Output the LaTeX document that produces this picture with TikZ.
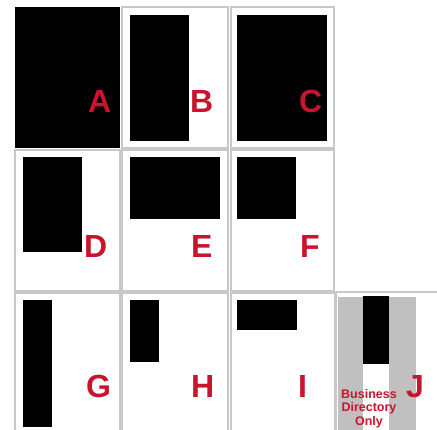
\documentclass[tikz,border=0pt]{standalone}
\usepackage{fontspec}
\setmainfont{Liberation Sans}
\definecolor{cellgray}{RGB}{200,200,200}
\definecolor{stripgray}{RGB}{192,192,192}
\definecolor{labred}{RGB}{200,20,45}
\begin{document}
\begin{tikzpicture}[x=1pt,y=-1pt,
  cell/.style={draw=cellgray, line width=1.2pt, fill=white, anchor=north west, inner sep=0pt, outer sep=0pt},
  blk/.style={fill=black, anchor=north west, inner sep=0pt, outer sep=0pt},
  strip/.style={fill=stripgray, anchor=north west, inner sep=0pt, outer sep=0pt},
  lab/.style={text=labred, font=\bfseries\fontsize{32}{32}\selectfont, anchor=base west, inner sep=0pt, outer sep=0pt},
  note/.style={text=labred, font=\bfseries\fontsize{12.5}{13.5}\selectfont, align=center, anchor=base, inner sep=0pt}]
\clip (0,0) rectangle (437,429);
\fill[white] (0,0) rectangle (437,429);
% cells
\node[cell, minimum width=106, minimum height=141] (cB) at (122,7) {};
\node[cell, minimum width=103, minimum height=141] (cC) at (231,7) {};
\node[cell, minimum width=105, minimum height=141] (cD) at (15,150) {};
\node[cell, minimum width=106, minimum height=141] (cE) at (122,150) {};
\node[cell, minimum width=103, minimum height=141] (cF) at (231,150) {};
\node[cell, minimum width=105, minimum height=140] (cG) at (15,293) {};
\node[cell, minimum width=106, minimum height=140] (cH) at (122,293) {};
\node[cell, minimum width=104, minimum height=140] (cI) at (231,293) {};
\node[cell, minimum width=110, minimum height=140] (cJ) at (336,292) {};
% black blocks
\node[blk, minimum width=105, minimum height=141] (bA) at (15,7) {};
\node[blk, minimum width=59, minimum height=126] (bB) at (130,15) {};
\node[blk, minimum width=90, minimum height=126] (bC) at (237,15) {};
\node[blk, minimum width=59, minimum height=95] (bD) at (23,157) {};
\node[blk, minimum width=90, minimum height=62] (bE) at (130,157) {};
\node[blk, minimum width=59, minimum height=62] (bF) at (237,157) {};
\node[blk, minimum width=29, minimum height=127] (bG) at (23,300) {};
\node[blk, minimum width=29, minimum height=62] (bH) at (130,300) {};
\node[blk, minimum width=60, minimum height=30] (bI) at (237,300) {};
% J
\node[strip, minimum width=78, minimum height=140] (sJ) at (338,297) {};
\node[fill=white, anchor=north west, inner sep=0pt, outer sep=0pt, minimum width=26, minimum height=80] (wJ) at (363,364) {};
\node[blk, minimum width=26, minimum height=68] (bJ) at (363,296) {};
% labels
\node[lab] (lA) at (88,112) {A};
\node[lab] (lB) at (190,112) {B};
\node[lab] (lC) at (299,112) {C};
\node[lab] (lD) at (84,257) {D};
\node[lab] (lE) at (191,257) {E};
\node[lab] (lF) at (300,257) {F};
\node[lab] (lG) at (86,397) {G};
\node[lab] (lH) at (191,397) {H};
\node[lab] (lI) at (298,397) {I};
\node[lab] (lJ) at (406,397) {J};
\node[note] (nJ) at (369,425) {Business\\Directory\\Only};
\end{tikzpicture}
\end{document}
